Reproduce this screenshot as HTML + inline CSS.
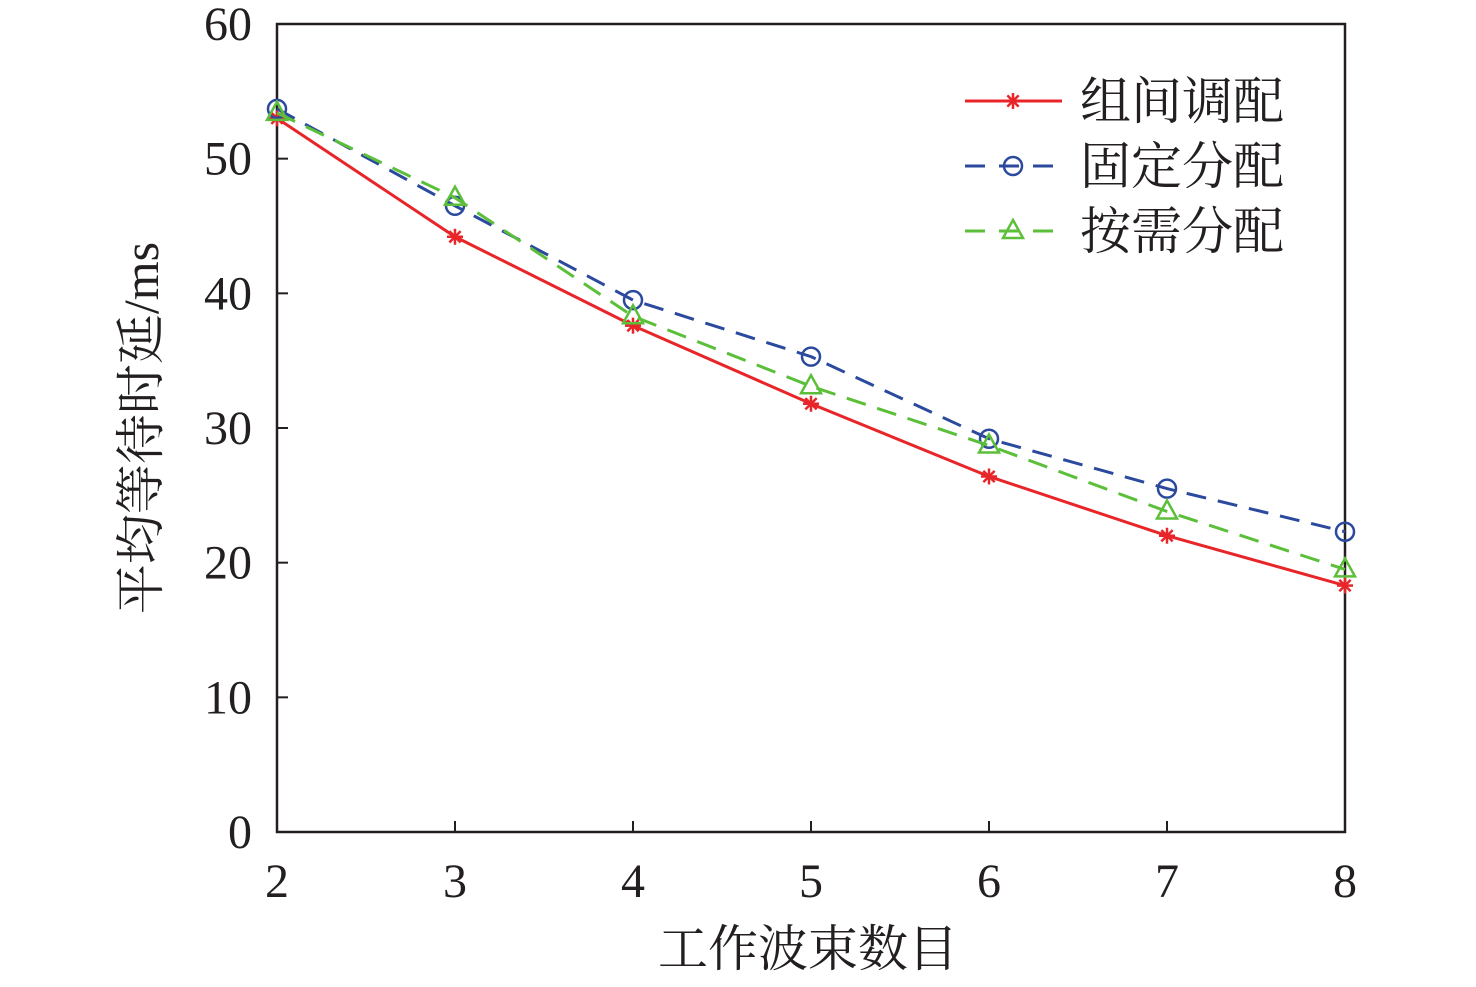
<!DOCTYPE html>
<html><head><meta charset="utf-8">
<style>
html,body{margin:0;padding:0;background:#fff;}
svg text{font-family:"Liberation Serif","Noto Serif CJK SC",serif;fill:#231f20;}
</style></head>
<body>
<svg id="chart" width="1476" height="982" xmlns="http://www.w3.org/2000/svg"></svg>
<script>
const categories = [2,3,4,5,6,7,8];
const yTicks = [0,10,20,30,40,50,60];
const seriesNames = ["组间调配","固定分配","按需分配"];
const redValues = [53.0,44.2,37.6,31.8,26.4,22.0,18.3];
const blueValues = [53.7,46.5,39.5,35.3,29.2,25.5,22.3];
const greenValues = [53.4,47.1,38.3,33.1,28.7,23.8,19.5];

const X0=277,X1=1345,Y0=832,Y1=24;
const xs=v=>X0+(v-2)/(8-2)*(X1-X0);
const ys=v=>Y0-(v/60)*(Y0-Y1);
const svg=document.getElementById('chart');
const NS="http://www.w3.org/2000/svg";
function mk(t,a,p){const e=document.createElementNS(NS,t);for(const k in a)e.setAttribute(k,a[k]);(p||svg).appendChild(e);return e;}

let e=mk('rect',{x:X0,y:Y1,width:X1-X0,height:Y0-Y1,fill:'none',stroke:'#231f20','stroke-width':2.5});



yTicks.forEach(v=>{
  let t=mk('line',{x1:X0,x2:X0+11,y1:ys(v),y2:ys(v),stroke:'#231f20','stroke-width':2});
  
  
  let l=mk('text',{x:252,y:ys(v)+16,'text-anchor':'end','font-size':48});
  l.textContent=v;
  
  
});
categories.forEach(v=>{
  let t=mk('line',{x1:xs(v),x2:xs(v),y1:Y0,y2:Y0-11,stroke:'#231f20','stroke-width':2});
  
  
  let l=mk('text',{x:xs(v),y:897,'text-anchor':'middle','font-size':48});
  l.textContent=v;
  
  
});
let xt=mk('text',{x:808,y:966,'text-anchor':'middle','font-size':50});
xt.textContent="工作波束数目";


let yt=mk('text',{x:0,y:0,'text-anchor':'middle','font-size':50,transform:'translate(158,428) rotate(-90)'});
yt.textContent="平均等待时延/ms";



function star(g,x,y,c){
  for(let a=0;a<180;a+=45){const r=a*Math.PI/180,d=8;
    mk('line',{x1:x-d*Math.cos(r),y1:y-d*Math.sin(r),x2:x+d*Math.cos(r),y2:y+d*Math.sin(r),stroke:c,'stroke-width':2.5},g);}
}
function circ(g,x,y,c){mk('circle',{cx:x,cy:y,r:9,fill:'none',stroke:c,'stroke-width':2.5},g);}
function tri(g,x,y,c){mk('polygon',{points:`${x},${y-11} ${x-10},${y+7} ${x+10},${y+7}`,fill:'none',stroke:c,'stroke-width':2.5},g);}

const defs=[
 {vals:redValues,color:'#e8262a',dash:'',marker:star,name:'series-zujian-tiaopei'},
 {vals:blueValues,color:'#2b4a9e',dash:'20 12',marker:circ,name:'series-guding-fenpei'},
 {vals:greenValues,color:'#5bbf3a',dash:'20 12',marker:tri,name:'series-anxu-fenpei'}
];
defs.forEach((s,i)=>{
  const g=mk('g',{});
  
  
  const pts=s.vals.map((v,j)=>xs(categories[j])+','+ys(v)).join(' ');
  mk('polyline',{points:pts,fill:'none',stroke:s.color,'stroke-width':3,'stroke-dasharray':s.dash},g);
  s.vals.forEach((v,j)=>s.marker(g,xs(categories[j]),ys(v),s.color));
  const ly=101+i*65;
  const lg=mk('g',{});
  
  
  mk('line',{x1:965,x2:1062,y1:ly,y2:ly,stroke:s.color,'stroke-width':3,'stroke-dasharray':s.dash?'20 14':''},lg);
  s.marker(lg,1013,ly,s.color);
  const t=mk('text',{x:1080,y:ly+18,'font-size':51},lg);
  t.textContent=seriesNames[i];
});
</script>
</body></html>
